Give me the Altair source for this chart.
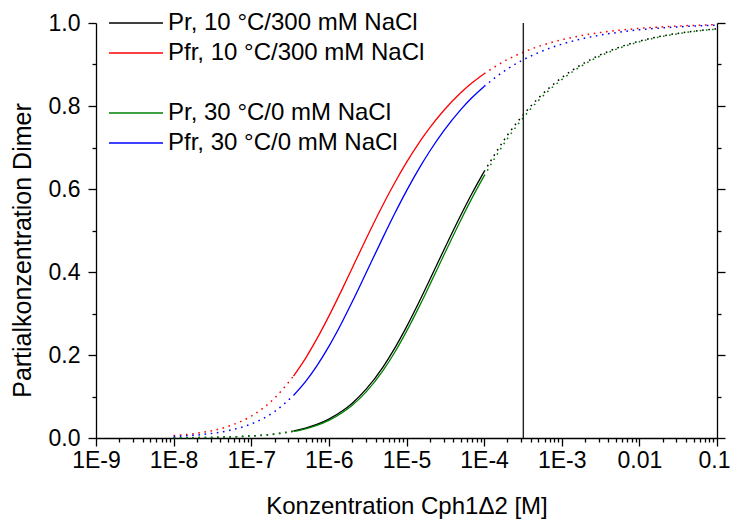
import altair as alt
import pandas as pd

# ---- data ----
CONC = [1e-8, 2e-8, 5e-8, 1e-7, 2e-7, 3.5e-7, 5e-7, 7e-7, 1e-6, 1.5e-6, 2e-6, 3e-6,
        5e-6, 7e-6, 1e-5, 1.5e-5, 2e-5, 3e-5, 5e-5, 7e-5, 1e-4, 2e-4, 3e-4, 5e-4,
        1e-3, 2e-3, 5e-3, 1e-2, 2e-2, 5e-2, 0.1]

PR_10 = [0.0005, 0.0010, 0.0025, 0.0050, 0.0098, 0.0169, 0.0238, 0.0327, 0.0456, 0.0655,
         0.0839, 0.1170, 0.1716, 0.2154, 0.2679, 0.3333, 0.3820, 0.4514, 0.5367, 0.5896,
         0.6417, 0.7298, 0.7730, 0.8190, 0.8682, 0.9049, 0.9387, 0.9563, 0.9689, 0.9802, 0.9860]
PFR_10 = [0.0058, 0.0115, 0.0278, 0.0528, 0.0961, 0.1491, 0.1920, 0.2387, 0.2936, 0.3606,
          0.4098, 0.4790, 0.5626, 0.6139, 0.6640, 0.7153, 0.7479, 0.7886, 0.8318, 0.8558,
          0.8778, 0.9120, 0.9275, 0.9434, 0.9596, 0.9713, 0.9817, 0.9870, 0.9908, 0.9942, 0.9959]
PR_30 = [0.0005, 0.0009, 0.0023, 0.0046, 0.0091, 0.0158, 0.0222, 0.0306, 0.0426, 0.0615,
         0.0789, 0.1104, 0.1629, 0.2055, 0.2569, 0.3213, 0.3696, 0.4391, 0.5249, 0.5785,
         0.6315, 0.7215, 0.7657, 0.8130, 0.8637, 0.9016, 0.9365, 0.9547, 0.9677, 0.9795, 0.9854]
PFR_30 = [0.0036, 0.0072, 0.0176, 0.0339, 0.0637, 0.1025, 0.1358, 0.1738, 0.2208, 0.2815,
          0.3282, 0.3969, 0.4840, 0.5396, 0.5954, 0.6538, 0.6916, 0.7396, 0.7914, 0.8205,
          0.8473, 0.8894, 0.9087, 0.9285, 0.9489, 0.9636, 0.9768, 0.9836, 0.9883, 0.9926, 0.9948]

SERIES_NAMES = ["Pr, 10 °C/300 mM NaCl", "Pfr, 10 °C/300 mM NaCl", " ",
                "Pr, 30 °C/0 mM NaCl", "Pfr, 30 °C/0 mM NaCl"]
SERIES_COLORS = ["#000000", "#ff0000", "transparent", "#008000", "#0000ff"]
SOLID_RANGE = [3.5e-7, 1e-4]
MARKER_CONC = [3.2e-4]

X_TICK_LABELS = ["1E-9", "1E-8", "1E-7", "1E-6", "1E-5", "1E-4", "1E-3", "0.01", "0.1"]
X_TITLE = "Konzentration Cph1\u03942 [M]"
Y_TITLE = "Partialkonzentration Dimer"
Y_TICKS = [0.0, 0.1, 0.2, 0.3, 0.4, 0.5, 0.6, 0.7, 0.8, 0.9, 1.0]

FONT = "Liberation Sans"

# ---- build table ----
rows = []
for name, vals in [(SERIES_NAMES[0], PR_10), (SERIES_NAMES[1], PFR_10),
                   (SERIES_NAMES[3], PR_30), (SERIES_NAMES[4], PFR_30)]:
    for c, f in zip(CONC, vals):
        if c <= SOLID_RANGE[0]:
            rows.append({"c": c, "f": f, "s": name, "seg": "lo"})
        if SOLID_RANGE[0] <= c <= SOLID_RANGE[1]:
            rows.append({"c": c, "f": f, "s": name, "seg": "mid"})
        if c >= SOLID_RANGE[1]:
            rows.append({"c": c, "f": f, "s": name, "seg": "hi"})
df = pd.DataFrame(rows)
marker_df = pd.DataFrame({"c": MARKER_CONC})

# tick positions: decades plus 2..9 within each decade
x_ticks = []
for i in range(len(X_TICK_LABELS)):
    d = 10.0 ** (i - 9)
    x_ticks.append(d)
    if i < len(X_TICK_LABELS) - 1:
        for m in range(2, 10):
            x_ticks.append(m * d)

lab_arr = "[" + ",".join("'" + t + "'" for t in X_TICK_LABELS) + "]"
is_dec = "abs(log(datum.value)/LN10 - round(log(datum.value)/LN10)) < 0.001"
x_label_expr = f"{is_dec} ? {lab_arr}[round(log(datum.value)/LN10) + 9] : ''"
y_major = "round(datum.value*10) % 2 === 0"

x_scale = alt.Scale(type="log", domain=[1e-9, 0.1], nice=False)
y_scale = alt.Scale(domain=[0, 1], nice=False)
color_scale = alt.Scale(domain=SERIES_NAMES, range=SERIES_COLORS)

x_axis = alt.Axis(values=x_ticks, labelExpr=x_label_expr, title=X_TITLE,
                  tickSize={"condition": {"test": is_dec, "value": 8}, "value": 4},
                  labelOffset={"condition": {"test": "datum.value > 0.05", "value": -3}, "value": 0},
                  labelFlush=False, labelOverlap=False, labelBound=False,
                  labelPadding=3, titlePadding=22, titleFontSize=24, orient="bottom")
y_axis_left = alt.Axis(values=Y_TICKS, labelExpr=f"{y_major} ? format(datum.value, '.1f') : ''",
                       title=Y_TITLE, orient="left", titleFontSize=25, titleY=227,
                       tickSize={"condition": {"test": y_major, "value": 8}, "value": 4},
                       labelOverlap=False, labelFlush=False, labelPadding=8, titlePadding=13)
y_axis_right = alt.Axis(values=Y_TICKS, labels=False, title=None, orient="right",
                        tickSize={"condition": {"test": y_major, "value": 8}, "value": 4})

legend = alt.Legend(orient="none", legendX=28, legendY=-12, title=None,
                    symbolType="M-3,0H3", symbolSize=324, symbolStrokeWidth=1.3,
                    symbolFillColor="transparent",
                    labelFontSize=24, labelFont=FONT, labelColor="black",
                    labelOffset=20, labelLimit=500, rowPadding=6, padding=0)

base = alt.Chart(df)

mid = base.transform_filter(alt.datum.seg == "mid").mark_line(
    strokeWidth=1.3, interpolate="monotone").encode(
    x=alt.X("c:Q", scale=x_scale, axis=x_axis),
    y=alt.Y("f:Q", scale=y_scale, axis=y_axis_left),
    color=alt.Color("s:N", scale=color_scale, legend=legend),
)

lo = base.transform_filter(alt.datum.seg == "lo").mark_line(
    strokeWidth=1.5, strokeDash=[1.6, 4.6], interpolate="monotone").encode(
    x=alt.X("c:Q", scale=x_scale, axis=x_axis),
    y=alt.Y("f:Q", scale=y_scale, axis=None),
    color=alt.Color("s:N", scale=color_scale, legend=None),
)

hi = base.transform_filter(alt.datum.seg == "hi").mark_line(
    strokeWidth=1.5, strokeDash=[1.6, 4.6], interpolate="monotone").encode(
    x=alt.X("c:Q", scale=x_scale, axis=x_axis),
    y=alt.Y("f:Q", scale=y_scale, axis=y_axis_right),
    color=alt.Color("s:N", scale=color_scale, legend=None),
)

marker = alt.Chart(marker_df).mark_rule(color="#222222", strokeWidth=1.4).encode(
    x=alt.X("c:Q", scale=x_scale, axis=x_axis),
)

chart = alt.layer(mid, lo, hi, marker).resolve_axis(y="independent").properties(
    width=621, height=415,
    padding={"left": 96, "top": 23, "right": 14, "bottom": 83},
    autosize=alt.AutoSizeParams(type="none"),
).configure_view(stroke=None).configure_axis(
    grid=False, domainColor="black", domainWidth=1.3, tickColor="black", tickWidth=1.3,
    labelColor="black", titleColor="black", labelFont=FONT, titleFont=FONT,
    labelFontSize=23, titleFontSize=24, titleFontWeight="normal",
)

chart.save("out.html", embed_options={"renderer": "svg", "actions": False})
